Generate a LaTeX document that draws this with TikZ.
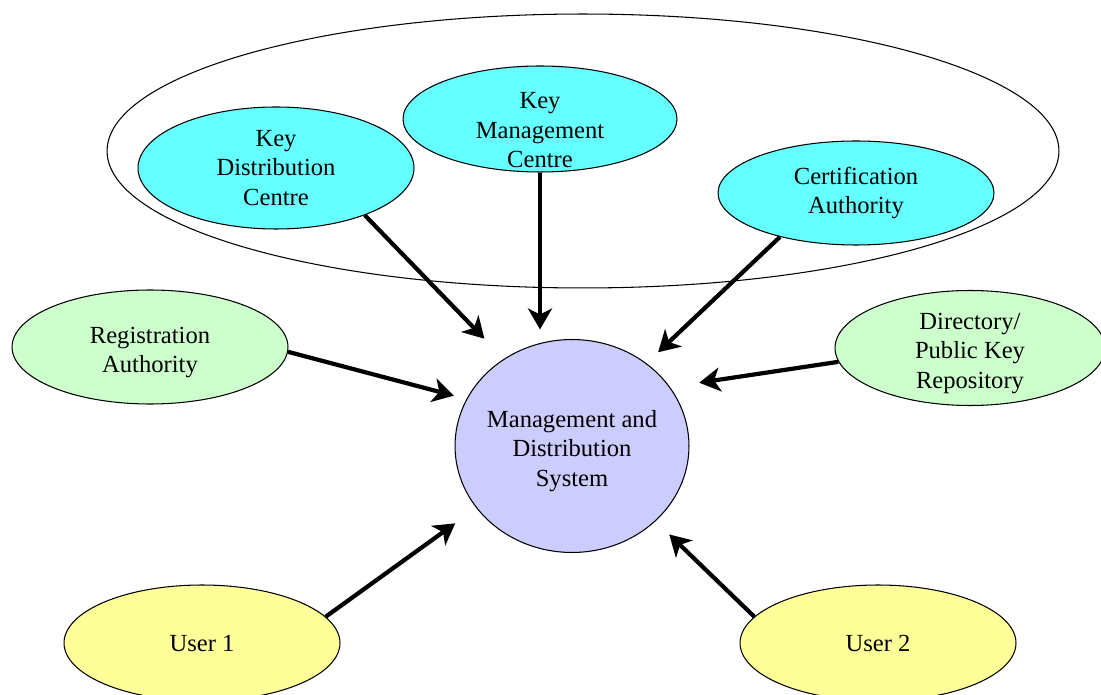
\documentclass[tikz,border=0pt]{standalone}
\usepackage{fontspec}
\setmainfont{Liberation Serif}
\usetikzlibrary{shapes.geometric,arrows.meta}
\definecolor{keycyan}{HTML}{66FFFF}
\definecolor{raygreen}{HTML}{CCFFCC}
\definecolor{useryellow}{HTML}{FFFF99}
\definecolor{mdsblue}{HTML}{CCCCFF}
\newcommand\toppad{\rule{0pt}{15.5pt}}
\begin{document}
\begin{tikzpicture}[x=0.02cm,y=-0.02cm,
	txt/.style={align=center,font=\fontsize{14}{16.8}\selectfont},
	bub/.style={ellipse,draw,line width=0.6pt,inner sep=-0.3cm,txt,minimum width=5.52cm},
	arr/.style={line width=2.4pt,-{Stealth[length=0.42cm,width=0.48cm,inset=0.12cm]}}]
	\useasboundingbox (0,0) rectangle (1101,695);
	\node[ellipse,draw,line width=0.6pt,minimum width=19.04cm,minimum height=5.48cm] (keys) at (583,151) {};
	\node[bub,fill=keycyan,minimum height=2.44cm] (kdc) at (276,168) {Key\\Distribution\\Centre};
	\node[bub,fill=keycyan,minimum width=5.48cm,minimum height=2.12cm,
		label={[txt,yshift=-0.23cm]center:Key\\Management\\Centre}] (kmc) at (540,119) {};
	\node[bub,fill=keycyan,minimum height=2.08cm] (ca) at (856,193) {Certification\\Authority};
	\node[bub,fill=raygreen,minimum height=2.28cm] (ra) at (150,347) {\toppad Registration\\Authority};
	\node[bub,fill=raygreen,minimum width=5.4cm,minimum height=2.3cm] (dir) at (970,348) {\toppad Directory/\\Public Key\\Repository};
	\node[bub,fill=mdsblue,minimum width=4.68cm,minimum height=4.26cm] (mds) at (572,446) {\toppad Management and\\Distribution\\System};
	\node[bub,fill=useryellow,minimum height=2.32cm] (user1) at (202,643) {User 1};
	\node[bub,fill=useryellow,minimum height=2.32cm] (user2) at (878,643) {User 2};
	\draw[arr,shorten >=0.56cm] (kdc.-28) -- (mds.128);
	\draw[arr,shorten >=0.19cm] (kmc.south) -- (kmc.south |- mds.north);
	\draw[arr,shorten >=0.32cm] (ca.210) -- (mds.48);
	\draw[arr,shorten >=0.26cm] (ra.-2) -- (mds.156);
	\draw[arr,shorten >=0.59cm] (dir.186) -- (mds.31);
	\draw[arr,shorten >=0.52cm] (user1.12) -- (mds.213);
	\draw[arr,shorten >=0.38cm] (user2.168) -- (mds.-42);
\end{tikzpicture}
\end{document}
